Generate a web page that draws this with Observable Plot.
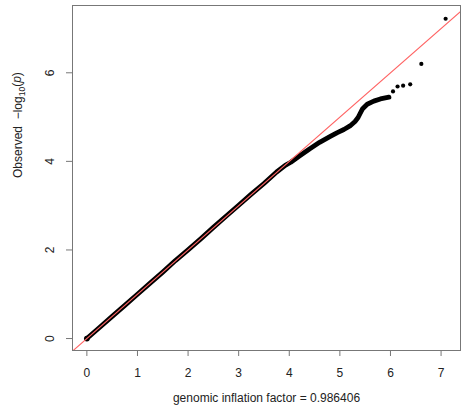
<!DOCTYPE html>
<html>
<head>
<meta charset="utf-8">
<script src="https://cdn.jsdelivr.net/npm/d3@7"></script>
<script src="https://cdn.jsdelivr.net/npm/@observablehq/plot@0.6"></script>
<style>
  html, body { margin: 0; padding: 0; background: #fff; }
</style>
</head>
<body>
<div id="chart"></div>
<script>
// Dense band of observed vs expected -log10(p)
const denseExpected = [0, 0.25, 0.5, 0.75, 1.0, 1.25, 1.5, 1.75, 2.0, 2.25, 2.5, 2.75, 3.0, 3.25, 3.5, 3.75, 3.92, 4.03, 4.2, 4.4, 4.6, 4.82, 4.95, 5.08, 5.2, 5.3, 5.36, 5.4, 5.45, 5.54, 5.67, 5.8, 5.97];
const denseObserved = [0, 0.25, 0.5, 0.75, 1.0, 1.25, 1.5, 1.76, 2.0, 2.25, 2.51, 2.76, 3.01, 3.26, 3.5, 3.76, 3.91, 3.98, 4.12, 4.28, 4.43, 4.57, 4.65, 4.72, 4.8, 4.9, 4.99, 5.08, 5.19, 5.29, 5.36, 5.41, 5.45];
// Sparse top points
const tailExpected = [6.05, 6.14, 6.25, 6.39, 6.61, 7.09];
const tailObserved = [5.58, 5.69, 5.71, 5.74, 6.20, 7.22];
// Reference y = x line
const ablineValues = [-1, 8];
// Ticks and labels
const xTicks = [0, 1, 2, 3, 4, 5, 6, 7];
const yTicks = [0, 2, 4, 6];
const xLabel = "genomic inflation factor = 0.986406";
const yLabel = "Observed  \u2212log10(p)";

const dense = denseExpected.map((e, i) => ({e, o: denseObserved[i]}));
const tail = tailExpected.map((e, i) => ({e, o: tailObserved[i]}));
const abline = ablineValues.map(v => ({e: v, o: v}));

const chart = Plot.plot({
  width: 464,
  height: 411,
  marginLeft: 72,
  marginRight: 4,
  marginTop: 5,
  marginBottom: 61,
  style: {fontFamily: "'Liberation Sans', Arial, sans-serif", fontSize: "12px", color: "#222", background: "#fff"},
  x: {domain: [-0.284, 7.384]},
  y: {domain: [-0.27, 7.519]},
  marks: [
    Plot.line(dense, {x: "e", y: "o", stroke: "#000", strokeWidth: 4.8, strokeLinecap: "round", strokeLinejoin: "round"}),
    Plot.dot(dense.slice(0, 1), {x: "e", y: "o", r: 2.9, fill: "#000"}),
    Plot.dot(tail, {x: "e", y: "o", r: 2.1, fill: "#000"}),
    Plot.line(abline, {x: "e", y: "o", stroke: "#ff6464", strokeWidth: 1.1, clip: true}),
    Plot.frame({stroke: "#777"}),
    Plot.axisX(xTicks, {tickSize: 6, tickPadding: 12, stroke: "#777", label: null}),
    Plot.axisY(yTicks, {tickSize: 6, tickFormat: () => "", stroke: "#777", label: null}),
    Plot.text(yTicks, {y: d => d, frameAnchor: "left", dx: -22, rotate: -90, text: d => String(d), textAnchor: "middle", fill: "#222"}),
    Plot.text([xLabel], {frameAnchor: "bottom", dy: 51, text: d => d, fill: "#222"}),
    Plot.text([yLabel], {frameAnchor: "left", dx: -54, rotate: -90, text: d => d, fill: "#222"})
  ]
});

document.getElementById("chart").appendChild(chart);

// Rich formatting of the y label: subscript 10 and italic p
d3.select(chart).selectAll("text").filter(function() { return this.textContent === yLabel; })
  .each(function() {
    const t = d3.select(this);
    t.text(null);
    t.append("tspan").text("Observed  \u2212log");
    t.append("tspan").attr("font-size", "8.5px").attr("dy", "0.3em").text("10");
    t.append("tspan").attr("dy", "-0.3em").text("(");
    t.append("tspan").attr("font-style", "italic").text("p");
    t.append("tspan").text(")");
  });
</script>
</body>
</html>
